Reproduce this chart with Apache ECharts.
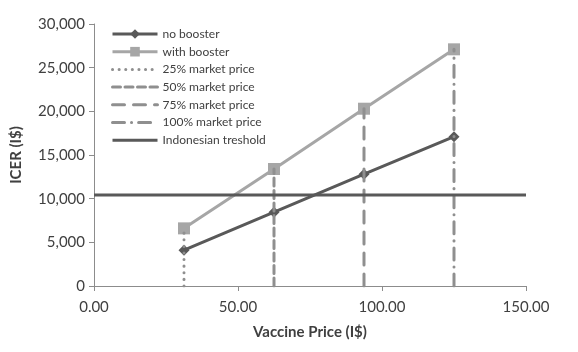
<!DOCTYPE html>
<html>
<head>
<meta charset="utf-8">
<script src="https://cdn.jsdelivr.net/npm/echarts@6/dist/echarts.min.js"></script>
<style>html,body{margin:0;padding:0;background:#fff;}#c{width:578px;height:352px;}</style>
</head>
<body>
<div id="c"></div>
<script>
var prices = [31.25, 62.5, 93.75, 125];
var noBooster = [4100, 8450, 12800, 17100];
var withBooster = [6600, 13400, 20300, 27100];
var marketLabels = ['25% market price', '50% market price', '75% market price', '100% market price'];
var thresholdValue = 10420;
var xRange = [0, 150];
var yTicks = [0, 5000, 10000, 15000, 20000, 25000, 30000];

var FONT = 'Lato';
var dashTypes = [[0.1, 6.5], [8, 4.5], [12, 9], [12, 7, 0.1, 7]];
var series = [];
series.push({
  name: 'no booster', type: 'line', z: 4,
  data: prices.map(function (p, i) { return [p, noBooster[i]]; }),
  symbol: 'diamond', symbolSize: 11,
  itemStyle: { color: '#595959' },
  lineStyle: { color: '#595959', width: 3 }
});
series.push({
  name: 'with booster', type: 'line', z: 3,
  data: prices.map(function (p, i) { return [p, withBooster[i]]; }),
  symbol: 'rect', symbolSize: 12,
  itemStyle: { color: '#a6a6a6' },
  lineStyle: { color: '#a6a6a6', width: 3 }
});
marketLabels.forEach(function (name, i) {
  series.push({
    name: name, type: 'line', z: 5,
    data: [[prices[i], 0], [prices[i], withBooster[i]]],
    symbol: 'none',
    itemStyle: { color: 'rgba(0,0,0,0)' },
    lineStyle: { color: '#8f8f8f', width: 3, type: dashTypes[i], cap: 'round' }
  });
});
series.push({
  name: 'Indonesian treshold', type: 'line', z: 6,
  data: [[xRange[0], thresholdValue], [xRange[1], thresholdValue]],
  symbol: 'none',
  itemStyle: { color: 'rgba(0,0,0,0)' },
  lineStyle: { color: '#595959', width: 3 }
});

var chart = echarts.init(document.getElementById('c'), null, { renderer: 'canvas' });
chart.setOption({
  animation: false,
  backgroundColor: '#fff',
  grid: { left: 94, right: 52, top: 24, bottom: 66 },
  legend: {
    orient: 'vertical', left: 106, top: 23,
    itemWidth: 45, itemHeight: 12, itemGap: 5.7,
    lineStyle: { width: 3 },
    textStyle: { fontFamily: FONT, fontSize: 12, color: '#404040', lineHeight: 12 },
    data: series.map(function (s) { return s.name; })
  },
  xAxis: {
    type: 'value', min: xRange[0], max: xRange[1], interval: 50,
    name: 'Vaccine Price (I$)', nameLocation: 'middle', nameGap: 39,
    nameTextStyle: { fontFamily: FONT, fontSize: 15, fontWeight: 'bold', color: '#404040' },
    axisLine: { lineStyle: { color: '#8c8c8c', width: 1 } },
    axisTick: { show: true, inside: false, length: 5, lineStyle: { color: '#8c8c8c' } },
    axisLabel: { fontFamily: FONT, fontSize: 15, color: '#404040', margin: 14,
      formatter: function (v) { return v.toFixed(2); } },
    splitLine: { show: false }
  },
  yAxis: {
    type: 'value', min: yTicks[0], max: yTicks[yTicks.length - 1], interval: yTicks[1] - yTicks[0],
    name: 'ICER (I$)', nameLocation: 'middle', nameGap: 70, nameRotate: 90,
    nameTextStyle: { fontFamily: FONT, fontSize: 15, fontWeight: 'bold', color: '#404040' },
    axisLine: { show: true, lineStyle: { color: '#8c8c8c', width: 1 } },
    axisTick: { show: true, inside: false, length: 5, lineStyle: { color: '#8c8c8c' } },
    axisLabel: { fontFamily: FONT, fontSize: 15, color: '#404040', margin: 9,
      formatter: function (v) { return v.toLocaleString('en-US'); } },
    splitLine: { show: false }
  },
  series: series
});
</script>
</body>
</html>
